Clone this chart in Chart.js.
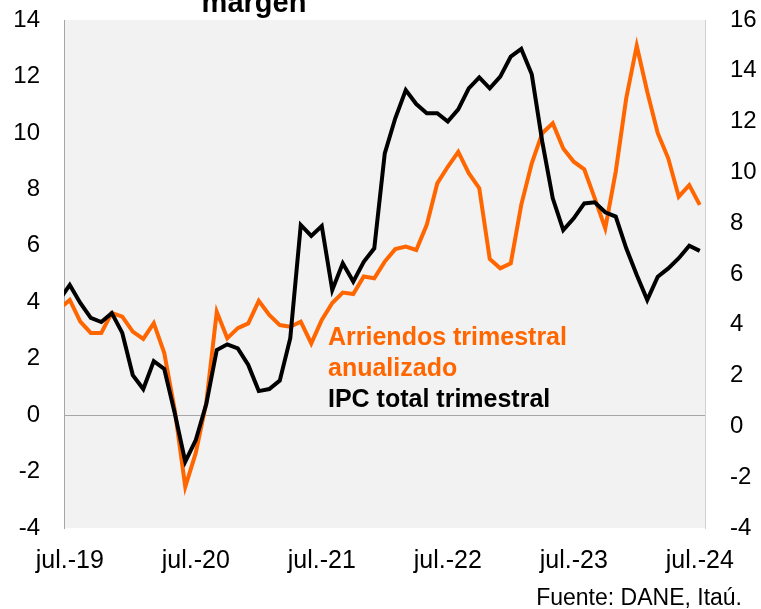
<!DOCTYPE html>
<html>
<head>
<meta charset="utf-8">
<script src="https://cdn.jsdelivr.net/npm/chart.js@4/dist/chart.umd.min.js"></script>
<style>
  html, body { margin: 0; padding: 0; background: #fff; }
</style>
</head>
<body>
<canvas id="myChart" width="761" height="609"></canvas>
<script>
// meses jun.-19 ... jul.-24 (el primero queda medio cortado a la izquierda)
const primerMes = -1;
const ticksX = [0, 12, 24, 36, 48, 60];
const etiquetasX = ['jul.-19', 'jul.-20', 'jul.-21', 'jul.-22', 'jul.-23', 'jul.-24'];
const ticksIzq = [-4, 14];
const ticksDer = [-4, 16];

// IPC total trimestral (eje derecho)
const ipcTotal = [
    4.98, 5.57, 4.86, 4.27, 4.11, 4.46, 3.68, 2.02, 1.47, 2.57, 2.26, 0.52,
    -1.39, -0.54, 0.88, 3.01, 3.23, 3.07, 2.42, 1.39, 1.47, 1.80, 3.47, 7.93,
    7.50, 7.89, 5.37, 6.42, 5.70, 6.48, 7.01, 10.75, 12.13, 13.24, 12.69, 12.33,
    12.33, 12.00, 12.48, 13.31, 13.74, 13.31, 13.77, 14.56, 14.86, 13.86, 11.21, 8.98,
    7.73, 8.19, 8.78, 8.82, 8.43, 8.26, 7.01, 5.96, 4.98, 5.89, 6.22, 6.62,
    7.11, 6.91
];

// Arriendos trimestral anualizado (eje izquierdo)
const arriendos = [
    3.76, 4.08, 3.31, 2.91, 2.91, 3.62, 3.49, 2.96, 2.70, 3.26, 2.20, 0.18,
    -2.54, -1.34, 0.43, 3.66, 2.72, 3.08, 3.25, 4.05, 3.55, 3.19, 3.13, 3.31,
    2.54, 3.37, 3.97, 4.34, 4.29, 4.91, 4.85, 5.44, 5.88, 5.97, 5.85, 6.74,
    8.21, 8.80, 9.33, 8.57, 8.04, 5.53, 5.20, 5.38, 7.45, 8.92, 9.99, 10.34,
    9.45, 8.98, 8.71, 7.68, 6.62, 8.63, 11.23, 13.09, 11.46, 9.99, 9.10, 7.74,
    8.15, 7.45
];

const fuente = '"Liberation Sans", Arial, sans-serif';
const transparente = 'rgba(0,0,0,0)';
const puntos = serie => serie.map((v, i) => ({ x: i + primerMes, y: v }));

const fondo = {
    id: 'fondo',
    beforeDraw(chart) {
        let { ctx, chartArea: a } = chart;
        ctx.save();
        ctx.fillStyle = '#f2f2f2';
        ctx.fillRect(a.left, a.top, a.right - a.left, a.bottom - a.top);
        ctx.restore();
    }
};

const textos = {
    id: 'textos',
    afterDraw(chart) {
        let ctx = chart.ctx;
        ctx.save();
        ctx.textBaseline = 'alphabetic';
        ctx.fillStyle = '#000';
        ctx.font = 'bold 29px ' + fuente;
        ctx.textAlign = 'center';
        ctx.fillText('margen', 254, 12);

        ctx.textAlign = 'left';
        ctx.font = 'bold 25px ' + fuente;
        ctx.fillStyle = '#ff6600';
        ctx.fillText('Arriendos trimestral', 328, 345);
        ctx.fillText('anualizado', 328, 376);
        ctx.fillStyle = '#000';
        ctx.fillText('IPC total trimestral', 328, 407);

        ctx.font = '23px ' + fuente;
        ctx.textAlign = 'right';
        ctx.fillText('Fuente: DANE, Itaú.', 742, 605);
        ctx.restore();
    }
};

let ctx = document.getElementById('myChart');
let myChart = new Chart(ctx, {
    type: 'line',
    data: {
        datasets: [{
                label: 'IPC total trimestral',
                data: puntos(ipcTotal),
                yAxisID: 'y1',
                borderColor: '#000',
                borderWidth: 4,
                pointRadius: 0,
                tension: 0,
                clip: 0
            },
            {
                label: 'Arriendos trimestral anualizado',
                data: puntos(arriendos),
                yAxisID: 'y',
                borderColor: '#ff6600',
                borderWidth: 4,
                pointRadius: 0,
                tension: 0,
                clip: 0
            }
        ]
    },
    options: {
        responsive: false,
        animation: false,
        layout: { padding: { top: 20, left: 0, right: 0, bottom: 0 } },
        plugins: { legend: { display: false }, tooltip: { enabled: false } },
        scales: {
            x: {
                type: 'linear',
                min: -0.55,
                max: 60.5,
                afterBuildTicks: axis => { axis.ticks = ticksX.map(v => ({ value: v })); },
                afterFit: axis => { axis.height = 81; },
                grid: { display: false },
                border: { display: false },
                ticks: {
                    autoSkip: false,
                    maxRotation: 0,
                    padding: 10,
                    color: '#000',
                    font: { family: fuente, size: 25 },
                    callback: v => etiquetasX[ticksX.indexOf(v)]
                }
            },
            y: {
                position: 'left',
                min: ticksIzq[0],
                max: ticksIzq[1],
                afterFit: axis => { axis.width = 64; },
                grid: {
                    drawTicks: true,
                    tickLength: 24,
                    tickColor: transparente,
                    color: c => c.tick.value === 0 ? '#a6a6a6' : transparente,
                    lineWidth: 1
                },
                border: { display: true, color: '#a6a6a6', width: 1 },
                ticks: {
                    stepSize: 2,
                    padding: 0,
                    color: '#000',
                    font: { family: fuente, size: 24 }
                }
            },
            y1: {
                position: 'right',
                min: ticksDer[0],
                max: ticksDer[1],
                afterFit: axis => { axis.width = 56; },
                grid: {
                    drawOnChartArea: false,
                    drawTicks: true,
                    tickLength: 25,
                    tickColor: transparente,
                    color: transparente
                },
                border: { display: true, color: '#d0d0d0', width: 1 },
                ticks: {
                    stepSize: 2,
                    padding: 0,
                    color: '#000',
                    font: { family: fuente, size: 24 }
                }
            }
        }
    },
    plugins: [fondo, textos]
});
</script>
</body>
</html>
